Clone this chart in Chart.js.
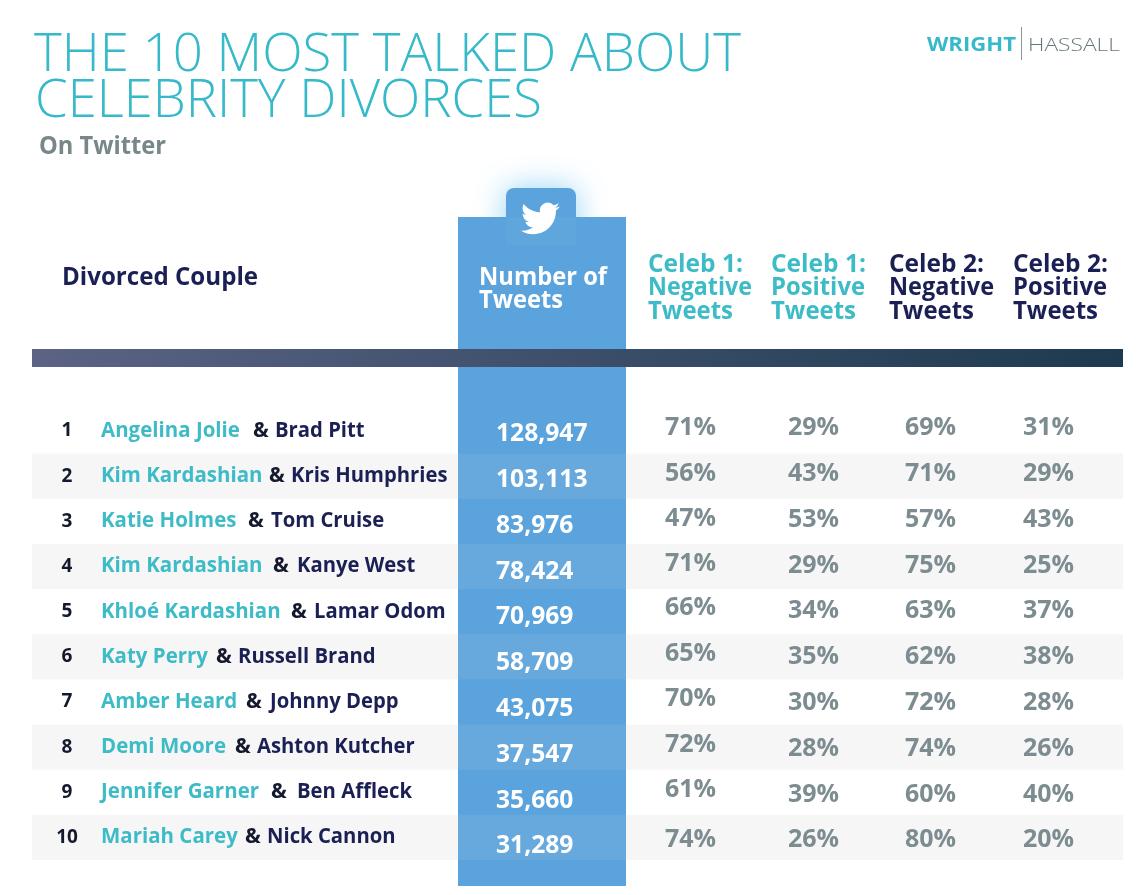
<!DOCTYPE html>
<html>
<head>
<meta charset="utf-8">
<title>The 10 Most Talked About Celebrity Divorces</title>
<script src="https://cdn.jsdelivr.net/npm/chart.js@4/dist/chart.umd.min.js"></script>
<style>
    html, body { margin: 0; padding: 0; background: #fff; }
    #page { position: relative; width: 1142px; height: 895px; overflow: hidden; font-family: 'Open Sans', sans-serif; }
    #chart { position: absolute; left: 0; top: 0; }
    .txt { position: absolute; white-space: nowrap; line-height: 1; transform-origin: left center; }
    .title { color: #36b9c8; font-weight: 300; font-size: 54px; }
    #logo-line { position: absolute; left: 1021px; top: 27px; width: 1px; height: 33px; background: #8c9699; }
</style>
</head>
<body>
<div id="page">
    <canvas id="chart" width="1142" height="895"></canvas>
    <div class="txt title" data-w="707" style="left:34px;top:23px">THE 10 MOST TALKED ABOUT</div>
    <div class="txt title" data-w="507" style="left:35px;top:69px">CELEBRITY DIVORCES</div>
    <div class="txt" data-w="127" style="left:39px;top:132px;font-size:25px;font-weight:700;color:#78878a">On Twitter</div>
    <div class="txt" data-w="89" style="left:927px;top:35px;font-size:19px;font-weight:700;color:#36b9c8">WRIGHT</div>
    <div id="logo-line"></div>
    <div class="txt" data-w="92" style="left:1028px;top:35px;font-size:19px;font-weight:300;color:#66777b">HASSALL</div>
</div>
<script>
// Table data
const ranks = [1, 2, 3, 4, 5, 6, 7, 8, 9, 10];
const celeb1 = ['Angelina Jolie', 'Kim Kardashian', 'Katie Holmes', 'Kim Kardashian', 'Khloé Kardashian', 'Katy Perry', 'Amber Heard', 'Demi Moore', 'Jennifer Garner', 'Mariah Carey'];
const celeb2 = ['Brad Pitt', 'Kris Humphries', 'Tom Cruise', 'Kanye West', 'Lamar Odom', 'Russell Brand', 'Johnny Depp', 'Ashton Kutcher', 'Ben Affleck', 'Nick Cannon'];
const tweets = [128947, 103113, 83976, 78424, 70969, 58709, 43075, 37547, 35660, 31289];
const celeb1Negative = [71, 56, 47, 71, 66, 65, 70, 72, 61, 74];
const celeb1Positive = [29, 43, 53, 29, 34, 35, 30, 28, 39, 26];
const celeb2Negative = [69, 71, 57, 75, 63, 62, 72, 74, 60, 80];
const celeb2Positive = [31, 29, 43, 25, 37, 38, 28, 26, 40, 20];

// Layout, kept apart from the data
const COL_TWEETS = 496, COL_NAME = 101, COL_RANK = 67;
const COL_PCT = [665, 788, 905, 1023];
const AMP_X = [253, 269, 248, 273, 291, 216, 246, 235, 271, 245];
const NAME2_X = [275, 291, 271, 297, 314, 238, 270, 257, 297, 267];
const COL1_NUDGE = [0, 0, -1, -2, -3, -3, -4, -4, -5, 0];
const TEAL = '#3dbbc6', NAVY = '#1b2054', GREY = '#7c8c90', BLUE = '#5aa3dc', BLUE_ROW = '#68a9dd';

const BIRD = new Path2D('M23.953 4.57a10 10 0 01-2.825.775 4.958 4.958 0 002.163-2.723c-.951.555-2.005.959-3.127 1.184a4.92 4.92 0 00-8.384 4.482C7.69 8.095 4.067 6.13 1.64 3.162a4.822 4.822 0 00-.666 2.475c0 1.71.87 3.213 2.188 4.096a4.904 4.904 0 01-2.228-.616v.06a4.923 4.923 0 003.946 4.827 4.996 4.996 0 01-2.212.085 4.936 4.936 0 004.604 3.417 9.867 9.867 0 01-6.102 2.105c-.39 0-.779-.023-1.17-.067a13.995 13.995 0 007.557 2.209c9.053 0 13.998-7.496 13.998-13.985 0-.21 0-.42-.015-.63A9.935 9.935 0 0024 4.59z');

function text(ctx, str, x, y, font, color, align = 'left', maxWidth) {
    ctx.font = font;
    ctx.fillStyle = color;
    ctx.textAlign = align;
    ctx.textBaseline = 'middle';
    if (maxWidth) ctx.fillText(str, x, y, maxWidth);
    else ctx.fillText(str, x, y);
}

// Bands, blue column, divider and header row go under the table text
const backdrop = {
    id: 'backdrop',
    beforeDatasetsDraw(chart) {
        const { ctx, scales: { y } } = chart;
        const rowH = Math.abs(y.getPixelForValue(2) - y.getPixelForValue(1));
        ctx.save();

        ranks.forEach(r => {
            if (r % 2 === 0) {
                ctx.fillStyle = '#f6f6f6';
                ctx.fillRect(32, y.getPixelForValue(r) - rowH / 2, 1091, rowH);
            }
        });

        // twitter tab with its glow
        ctx.save();
        ctx.shadowColor = 'rgba(120,200,245,0.8)';
        ctx.shadowBlur = 30;
        ctx.fillStyle = BLUE;
        ctx.beginPath();
        ctx.roundRect(506, 188, 70, 60, 8);
        ctx.fill();
        ctx.restore();

        ctx.fillStyle = BLUE;
        ctx.fillRect(458, 217, 168, 669);
        ctx.fillStyle = '#5fa6dd';
        ctx.fillRect(506, 217, 70, 28);
        ranks.forEach(r => {
            if (r % 2 === 0) {
                ctx.fillStyle = BLUE_ROW;
                ctx.fillRect(458, y.getPixelForValue(r) - rowH / 2, 168, rowH);
            }
        });

        ctx.save();
        ctx.translate(521, 199);
        ctx.scale(1.62, 1.62);
        ctx.fillStyle = '#fff';
        ctx.fill(BIRD);
        ctx.restore();

        const grad = ctx.createLinearGradient(32, 0, 1123, 0);
        grad.addColorStop(0, '#5c6385');
        grad.addColorStop(1, '#1d3a50');
        ctx.fillStyle = grad;
        ctx.fillRect(32, 349, 1091, 18);

        const head = "700 24.5px 'Open Sans'";
        text(ctx, 'Divorced Couple', 62, 278, head, NAVY, 'left', 196);
        text(ctx, 'Number of', 479, 278, head, '#fff', 'left', 128);
        text(ctx, 'Tweets', 479, 301, head, '#fff', 'left', 84);
        [[648, 'Celeb 1:', 'Negative', TEAL, 104], [771, 'Celeb 1:', 'Positive', TEAL, 94],
         [889, 'Celeb 2:', 'Negative', NAVY, 105], [1013, 'Celeb 2:', 'Positive', NAVY, 94]].forEach(([x, a, b, c, w]) => {
            text(ctx, a, x, 265, head, c, 'left', 95);
            text(ctx, b, x, 288, head, c, 'left', w);
            text(ctx, 'Tweets', x, 312, head, c, 'left', 85);
        });
        ctx.restore();
    }
};

// Writes each table cell at the spot the scales gave its point
const cellText = {
    id: 'cellText',
    afterDatasetsDraw(chart) {
        const { ctx } = chart;
        ctx.save();
        chart.data.datasets.forEach((ds, d) => {
            chart.getDatasetMeta(d).data.forEach((pt, i) => {
                const col = ds.cell;
                if (col === 'rank') {
                    text(ctx, String(ranks[i]), pt.x, pt.y, "700 19px 'Open Sans'", '#15192e', 'center');
                } else if (col === 'couple') {
                    const f = "700 21px 'Open Sans'";
                    ctx.font = f;
                    text(ctx, celeb1[i], pt.x, pt.y, f, TEAL, 'left', ctx.measureText(celeb1[i]).width * 0.975);
                    text(ctx, '&', AMP_X[i], pt.y, f, '#15192e');
                    text(ctx, celeb2[i], NAME2_X[i], pt.y, f, NAVY, 'left', ctx.measureText(celeb2[i]).width * 0.965);
                } else if (col === 'tweets') {
                    ctx.font = "700 25px 'Open Sans'";
                    const s = tweets[i].toLocaleString('en-US');
                    text(ctx, s, pt.x, pt.y + 3 + i * 0.65, ctx.font, '#fff', 'left', ctx.measureText(s).width * 0.985);
                } else {
                    const nudge = -3 + i * 0.65 + (col === 0 ? COL1_NUDGE[i] : 0);
                    text(ctx, ds.values[i] + '%', pt.x, pt.y + nudge, "700 25px 'Open Sans'", GREY);
                }
            });
        });
        ctx.restore();
    }
};

const column = (cell, x, values) => ({
    cell,
    values,
    data: ranks.map(r => ({ x, y: r })),
    pointRadius: 0,
    showLine: false
});

new Chart(document.getElementById('chart'), {
    type: 'scatter',
    data: {
        datasets: [
            column('rank', COL_RANK),
            column('couple', COL_NAME),
            column('tweets', COL_TWEETS),
            column(0, COL_PCT[0], celeb1Negative),
            column(1, COL_PCT[1], celeb1Positive),
            column(2, COL_PCT[2], celeb2Negative),
            column(3, COL_PCT[3], celeb2Positive)
        ]
    },
    options: {
        responsive: false,
        animation: false,
        devicePixelRatio: 1,
        layout: { padding: 0 },
        plugins: { legend: { display: false }, tooltip: { enabled: false } },
        scales: {
            x: { display: false, min: 0, max: 1142 },
            y: { display: false, reverse: true, min: -8.544, max: 11.275 }
        }
    },
    plugins: [backdrop, cellText]
});

// Squeeze or stretch the page headings to the width they have in the picture
document.querySelectorAll('.txt[data-w]').forEach(el => {
    el.style.transform = `scaleX(${el.dataset.w / el.getBoundingClientRect().width})`;
});
</script>
</body>
</html>
